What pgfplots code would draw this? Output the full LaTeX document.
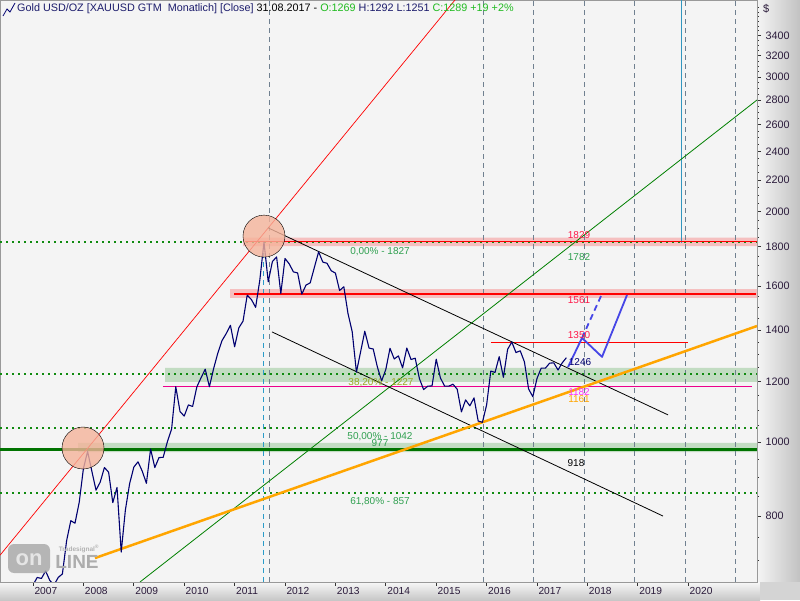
\documentclass[border=0pt]{standalone}
\usepackage{pgfplots}
\pgfplotsset{compat=1.18}
\usepackage{fontspec}
\setmainfont{Liberation Sans}
\definecolor{bgc}{HTML}{F4F4F4}
\definecolor{grd}{HTML}{708090}
\definecolor{dgreen}{HTML}{108A10}
\definecolor{lgreen}{HTML}{C2DCC2}
\definecolor{lred}{HTML}{F5C0C0}
\definecolor{navyp}{HTML}{000070}
\definecolor{projb}{HTML}{4646E6}
\definecolor{orng}{HTML}{FFA500}
\definecolor{circ}{HTML}{F5B39A}
\definecolor{txtg}{HTML}{30A050}
\definecolor{txto}{HTML}{99AA22}
\definecolor{txtr}{HTML}{FF1848}
\definecolor{txtm}{HTML}{FF30FF}
\definecolor{axt}{HTML}{2B1B3B}
\definecolor{ttl}{HTML}{1C1C6C}
\definecolor{ttg}{HTML}{22BB22}
\begin{document}
\begin{tikzpicture}[x=1pt,y=1pt]
\useasboundingbox (0,0) rectangle (800,600);
\shade[left color=black!4, right color=black!24] (757,18) rectangle (800,600);
\shade[top color=black!3, bottom color=black!22] (0,0) rectangle (760,18);
\fill[black!17] (760,0) rectangle (800,18);
\begin{axis}[at={(0pt,18pt)}, anchor=south west, width=757pt, height=582pt, scale only axis,
  xmin=2006.345, xmax=2021.365, ymode=log, ymin=656, ymax=3786,
  axis background/.style={fill=bgc},
  axis line style={draw=black!40},
  xtick={2007,2008,2009,2010,2011,2012,2013,2014,2015,2016,2017,2018,2019,2020},
  xticklabels={2007,2008,2009,2010,2011,2012,2013,2014,2015,2016,2017,2018,2019,2020},
  ytick={800,1000,1200,1400,1600,1800,2000,2200,2400,2600,2800,3000,3200,3400},
  yticklabels={800,1000,1200,1400,1600,1800,2000,2200,2400,2600,2800,3000,3200,3400},
  minor ytick={700,750,850,900,950,1050,1100,1150,1250,1300,1350,1450,1500,1550,1650,1700,1750,1850,1900,1950,2050,2100,2150,2250,2300,2350,2450,2500,2550,2650,2700,2750,2850,2900,2950,3050,3100,3150,3250,3300,3350,3450,3500,3550,3600,3650,3700},
  xtick pos=left, ytick pos=right, yticklabel pos=right,
  tick align=outside, major tick length=4pt, minor tick length=2pt,
  tick style={black!80, line width=0.8pt},
  xticklabel style={anchor=north west, xshift=-2pt, yshift=2pt, font=\fontsize{10.2}{10}\selectfont, text=axt},
  yticklabel style={anchor=west, xshift=1pt, font=\fontsize{10.8}{10}\selectfont, text=axt},
  clip=true]
% bands
\addplot[fill=lgreen, draw=none] coordinates {(2009.619,1198) (2021.4,1198) (2021.4,1250) (2009.619,1250) (2009.619,1198)};
\addplot[fill=lgreen, draw=none] coordinates {(2007.893,970) (2021.4,970) (2021.4,997) (2007.893,997) (2007.893,970)};
\addplot[fill=lred, draw=none] coordinates {(2011.17,1804) (2021.4,1804) (2021.4,1851) (2011.17,1851) (2011.17,1804)};
\addplot[fill=lred, draw=none] coordinates {(2010.909,1543) (2021.4,1543) (2021.4,1585) (2010.909,1585) (2010.909,1543)};
% circles
\addplot[only marks, mark=*, mark size=21pt, mark options={fill=circ, draw=none, fill opacity=0.8}] coordinates {(2007.992,982) (2011.583,1859)};
% vertical dashed grid lines
\addplot[grd, dash pattern=on 5pt off 4pt, line width=1pt] coordinates {(2011.683,656) (2011.683,3786)};
\addplot[grd, dash pattern=on 5pt off 4pt, line width=1pt] coordinates {(2015.948,656) (2015.948,3786)};
\addplot[grd, dash pattern=on 5pt off 4pt, line width=1pt] coordinates {(2016.921,656) (2016.921,3786)};
\addplot[grd, dash pattern=on 5pt off 4pt, line width=1pt] coordinates {(2017.933,656) (2017.933,3786)};
\addplot[grd, dash pattern=on 5pt off 4pt, line width=1pt] coordinates {(2018.925,656) (2018.925,3786)};
\addplot[grd, dash pattern=on 5pt off 4pt, line width=1pt] coordinates {(2019.956,656) (2019.956,3786)};
\addplot[grd, dash pattern=on 5pt off 4pt, line width=1pt] coordinates {(2020.929,656) (2020.929,3786)};
\addplot[cyan!80!black, dash pattern=on 5pt off 4pt, line width=1pt] coordinates {(2011.583,656) (2011.583,1810)};
\addplot[cyan!75!black, line width=1pt] coordinates {(2019.857,1821) (2019.857,3786)};
% horizontal levels
\addplot[dgreen, line width=2pt, dash pattern=on 2pt off 4pt] coordinates {(2006.345,1827) (2021.365,1827)};
\addplot[dgreen, line width=2pt, dash pattern=on 2pt off 4pt] coordinates {(2006.345,1227) (2021.365,1227)};
\addplot[dgreen, line width=2pt, dash pattern=on 2pt off 4pt] coordinates {(2006.345,1042) (2021.365,1042)};
\addplot[dgreen, line width=2pt, dash pattern=on 2pt off 4pt] coordinates {(2006.345,857) (2021.365,857)};
\addplot[green!45!black, line width=2.6pt] coordinates {(2006.345,977) (2021.365,977)};
\addplot[red, line width=1.5pt] coordinates {(2011.206,1829) (2021.365,1829)};
\addplot[red, line width=1.5pt] coordinates {(2010.988,1561) (2021.34,1561)};
\addplot[red, line width=1.2pt] coordinates {(2016.087,1350) (2019.996,1350)};
\addplot[magenta, line width=1.2pt] coordinates {(2009.579,1182) (2021.266,1182)};
% trend lines
\addplot[red, line width=0.7pt] coordinates {(2006.345,711) (2015.373,3786)};
\addplot[green!50!black, line width=0.8pt] coordinates {(2009.123,656) (2021.365,2801)};
\addplot[black, line width=0.8pt] coordinates {(2011.663,1906) (2019.60,1085)};
\addplot[black, line width=0.8pt] coordinates {(2011.742,1393) (2019.50,800)};
\addplot[orng, line width=2.5pt] coordinates {(2008.23,705) (2021.365,1418)};
% price
\addplot[navyp, line width=1.1pt, line join=round] coordinates {
(2006.417,614)(2006.5,633)(2006.583,623)(2006.667,599)(2006.75,604)(2006.833,646)(2006.917,632)
(2007.0,650)(2007.083,665)(2007.167,663)(2007.25,678)(2007.333,659)(2007.417,650)(2007.5,665)(2007.583,672)(2007.667,743)(2007.75,789)(2007.833,783)(2007.917,834)
(2008.0,923)(2008.083,972)(2008.167,916)(2008.25,865)(2008.333,886)(2008.417,926)(2008.5,913)(2008.583,833)(2008.667,872)(2008.75,718)(2008.833,815)(2008.917,882)
(2009.0,927)(2009.083,942)(2009.167,916)(2009.25,883)(2009.333,979)(2009.417,926)(2009.5,954)(2009.583,955)(2009.667,1001)(2009.75,1040)(2009.833,1181)(2009.917,1096)
(2010.0,1081)(2010.083,1118)(2010.167,1113)(2010.25,1180)(2010.333,1213)(2010.417,1245)(2010.5,1181)(2010.583,1247)(2010.667,1307)(2010.75,1357)(2010.833,1386)(2010.917,1421)
(2011.0,1332)(2011.083,1410)(2011.167,1439)(2011.25,1556)(2011.333,1536)(2011.417,1500)(2011.5,1628)(2011.583,1826)(2011.667,1620)(2011.75,1722)(2011.833,1746)(2011.917,1564)
(2012.0,1738)(2012.083,1710)(2012.167,1669)(2012.25,1664)(2012.333,1561)(2012.417,1604)(2012.5,1615)(2012.583,1692)(2012.667,1773)(2012.75,1719)(2012.833,1713)(2012.917,1675)
(2013.0,1663)(2013.083,1578)(2013.167,1596)(2013.25,1472)(2013.333,1394)(2013.417,1234)(2013.5,1312)(2013.583,1396)(2013.667,1327)(2013.75,1323)(2013.833,1253)(2013.917,1202)
(2014.0,1244)(2014.083,1326)(2014.167,1284)(2014.25,1296)(2014.333,1250)(2014.417,1327)(2014.5,1282)(2014.583,1287)(2014.667,1210)(2014.75,1171)(2014.833,1183)(2014.917,1184)
(2015.0,1283)(2015.083,1213)(2015.167,1183)(2015.25,1183)(2015.333,1190)(2015.417,1172)(2015.5,1095)(2015.583,1135)(2015.667,1115)(2015.75,1142)(2015.833,1065)(2015.917,1061)
(2016.0,1118)(2016.083,1238)(2016.167,1233)(2016.25,1293)(2016.333,1215)(2016.417,1322)(2016.5,1351)(2016.583,1309)(2016.667,1316)(2016.75,1273)(2016.833,1173)(2016.917,1146)
(2017.0,1211)(2017.083,1249)(2017.167,1249)(2017.25,1268)(2017.333,1269)(2017.417,1242)(2017.5,1269)(2017.583,1289)};
% projection
\addplot[projb, line width=1.8pt, line join=round] coordinates {(2017.615,1253) (2017.893,1368) (2018.29,1292) (2018.786,1557)};
\addplot[projb, line width=1.8pt, dash pattern=on 6pt off 4pt] coordinates {(2017.893,1368) (2018.27,1552)};
\end{axis}
% labels
\begin{scope}[every node/.style={font=\fontsize{10}{10}\selectfont, inner sep=0pt}]
\node[text=txtg] at (380,348) {0,00\% - 1827};
\node[text=txtr] at (579,365) {1829};
\node[text=txtg] at (579,343) {1782};
\node[text=txtr] at (579,300) {1561};
\node[text=txtr] at (579,265) {1350};
\node[text=navyp] at (580,238) {1246};
\node[text=txto] at (381,217) {38,20\% - 1227};
\node[text=txtm] at (579,208) {1182};
\node[text=orng] at (579,201) {1161};
\node[text=txtg] at (380,163) {50,00\% - 1042};
\node[text=txtg] at (380,157) {977};
\node[text=black] at (576,137) {918};
\node[text=txtg] at (380,98) {61,80\% - 857};
\node[text=axt, anchor=west, font=\fontsize{11}{11}\selectfont] at (763,591) {\$};
\end{scope}
% title
\draw[navyp, line width=0.8pt] (3,584) -- (7,591) -- (10,588) -- (15,597);
\node[anchor=west, inner sep=0pt, font=\fontsize{10.8}{12}\selectfont] at (17,591) {\textcolor{ttl}{Gold USD/OZ [XAUUSD GTM\ \ Monatlich] [Close]} 31.08.2017 - \textcolor{ttg}{O:1269} \textcolor{ttl}{H:1292 L:1251} \textcolor{ttg}{C:1289 +19 +2\%}};
% watermark
\fill[black!35, rounded corners=6pt, opacity=0.8] (8,27) rectangle (50,56);
\node[text=white!90!black, font=\bfseries\fontsize{22}{22}\selectfont, inner sep=0pt] at (29,40) {on};
\node[text=black!32, font=\bfseries\fontsize{19}{19}\selectfont, inner sep=0pt] at (77,38) {LINE};
\node[text=black!30, font=\bfseries\fontsize{6.5}{7}\selectfont, inner sep=0pt] at (79,51) {Tradesignal\textsuperscript{\tiny\textregistered}};
\end{tikzpicture}
\end{document}
